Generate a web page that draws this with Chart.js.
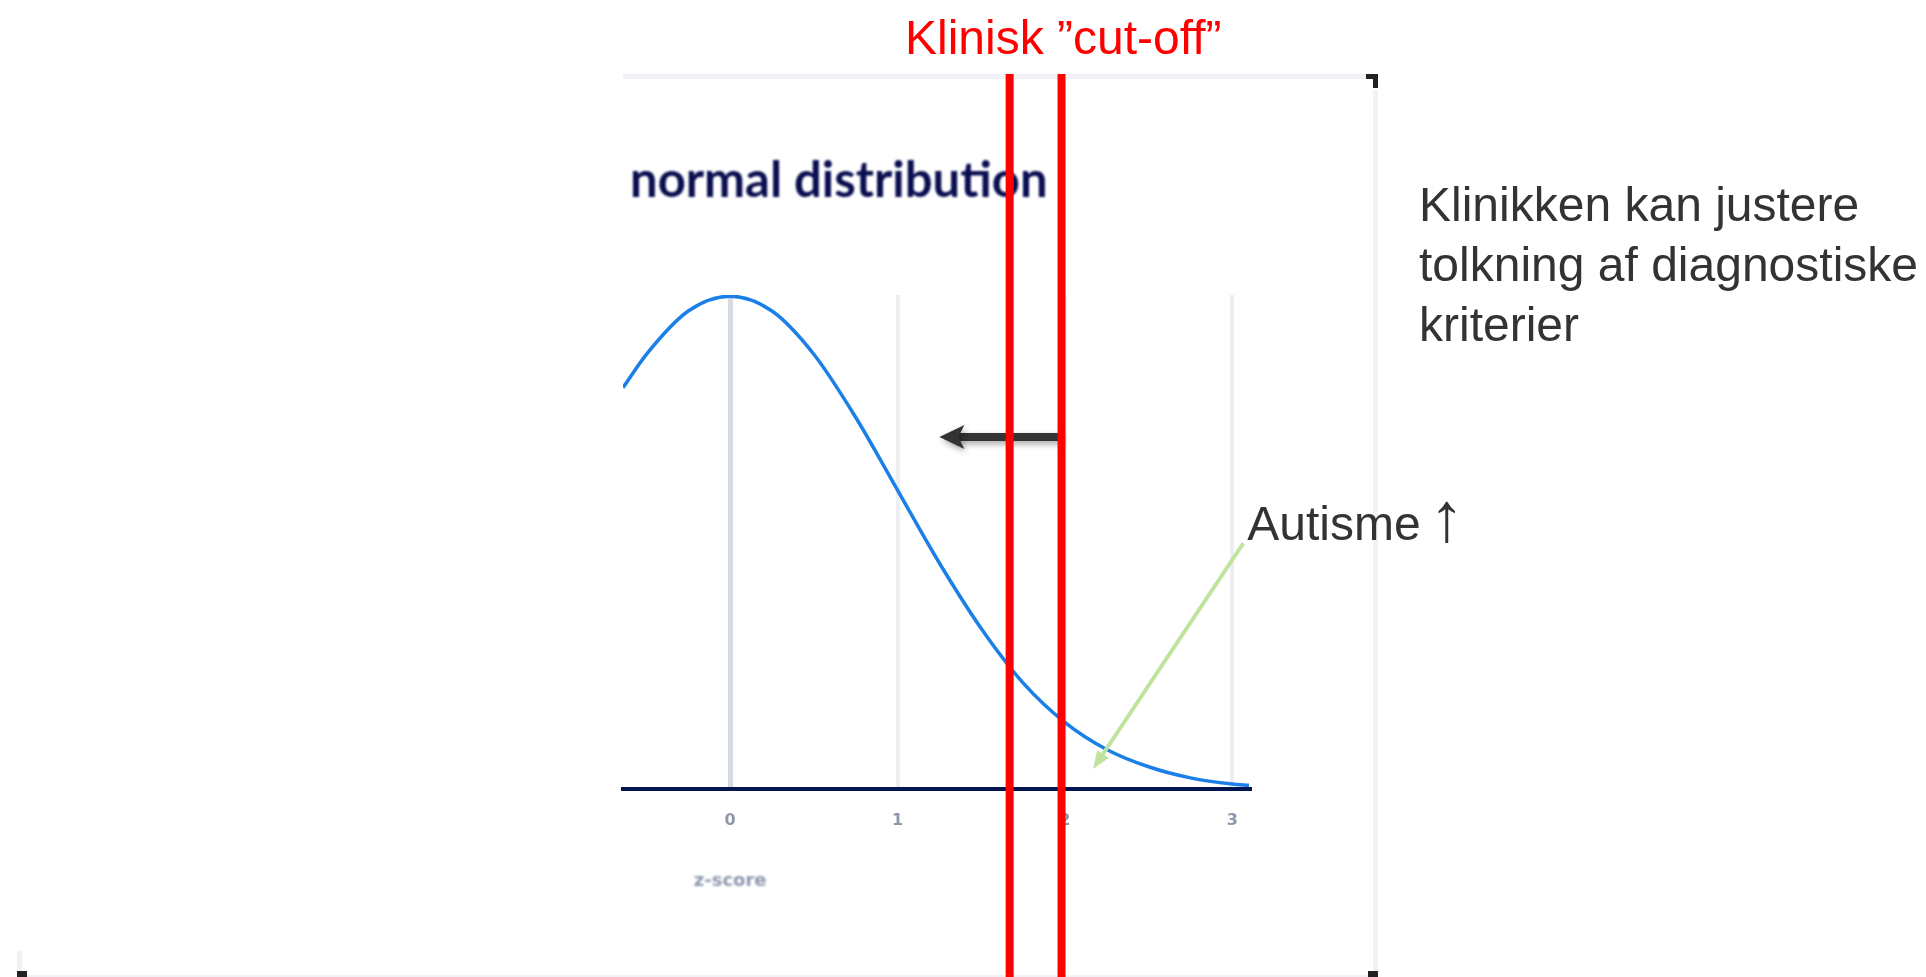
<!DOCTYPE html>
<html>
<head>
<meta charset="utf-8">
<script src="https://cdn.jsdelivr.net/npm/chart.js@4.4.1/dist/chart.umd.min.js"></script>
<style>
  html, body { margin: 0; padding: 0; background: #ffffff; }
  #chartNormal { display: block; }
</style>
</head>
<body>
<canvas id="chartNormal" width="1926" height="977"></canvas>
<script>
// values (standard normal curve, cropped at the left)
const zScores = [-0.64, -0.5, -0.25, 0, 0.25, 0.5, 0.75, 1, 1.25, 1.5, 1.75, 2, 2.25, 2.5, 2.75, 3, 3.1];
const density = [0.325, 0.352, 0.387, 0.399, 0.387, 0.352, 0.301, 0.242, 0.183, 0.130, 0.086, 0.054, 0.032, 0.018, 0.009, 0.004, 0.003];
const xTicks = [0, 1, 2, 3];
const cutOffs = [1.67, 1.98];

const chartTitle = 'normal distribution';
const axisTitle = 'z-score';
const cutOffLabel = 'Klinisk ”cut-off”';
const sideNote = ['Klinikken kan justere', 'tolkning af diagnostiske', 'kriterier'];
const autismLabel = ['Autisme', '↑'];

const points = zScores.map((z, i) => ({ x: z, y: density[i] }));

function arrowHead(ctx, x1, y1, x2, y2, len, half, notch) {
  const a = Math.atan2(y2 - y1, x2 - x1);
  const c = Math.cos(a), s = Math.sin(a);
  ctx.beginPath();
  ctx.moveTo(x2, y2);
  ctx.lineTo(x2 - len * c + half * s, y2 - len * s - half * c);
  ctx.lineTo(x2 - (len - notch) * c, y2 - (len - notch) * s);
  ctx.lineTo(x2 - len * c - half * s, y2 - len * s + half * c);
  ctx.closePath();
  ctx.fill();
}

// everything around the curve: frame, texts, cut-off lines and arrows
const overlay = {
  id: 'overlay',
  beforeDraw(chart) {
    const ctx = chart.ctx;
    ctx.save();
    ctx.fillStyle = '#f2f2f6';
    ctx.fillRect(623, 74, 750, 5);
    ctx.fillRect(1373, 90, 5, 881);
    ctx.fillRect(17, 975, 1361, 2);
    ctx.fillRect(17, 951, 5, 20);
    ctx.fillStyle = '#222';
    ctx.fillRect(1366, 74, 12, 5);
    ctx.fillRect(1373, 74, 5, 14);
    ctx.fillRect(17, 971, 10, 6);
    ctx.fillRect(1368, 971, 10, 6);
    ctx.restore();
  },
  afterDraw(chart) {
    const ctx = chart.ctx;
    const x = chart.scales.x, y = chart.scales.y;
    ctx.save();

    // blurry screenshot texts
    ctx.filter = 'blur(0.9px)';
    ctx.fillStyle = '#0a0e50';
    ctx.font = 'bold 49px Lato';
    ctx.textAlign = 'left';
    ctx.textBaseline = 'alphabetic';
    ctx.fillText(chartTitle, 630, 197);
    ctx.fillStyle = '#8e98ad';
    ctx.font = 'bold 18px "DejaVu Sans"';
    ctx.textAlign = 'center';
    ctx.fillText(axisTitle, x.getPixelForValue(0), 886);
    ctx.filter = 'none';

    // black arrow
    const bx1 = x.getPixelForValue(1.976), bx2 = x.getPixelForValue(1.25);
    const by = y.getPixelForValue(0.285);
    ctx.shadowColor = 'rgba(0,0,0,0.35)';
    ctx.shadowBlur = 6;
    ctx.shadowOffsetX = 2;
    ctx.shadowOffsetY = 3;
    ctx.strokeStyle = '#333333';
    ctx.fillStyle = '#333333';
    ctx.lineWidth = 8;
    ctx.beginPath();
    ctx.moveTo(bx1, by);
    ctx.lineTo(bx2 + 16, by);
    ctx.stroke();
    arrowHead(ctx, bx1, by, bx2, by, 25, 12, 6);
    ctx.shadowColor = 'transparent';

    // cut-off lines
    ctx.strokeStyle = '#ff0000';
    ctx.lineWidth = 8;
    cutOffs.forEach(v => {
      const px = x.getPixelForValue(v);
      ctx.beginPath();
      ctx.moveTo(px, 74);
      ctx.lineTo(px, 977);
      ctx.stroke();
    });

    // green arrow
    const gx1 = x.getPixelForValue(3.066), gy1 = y.getPixelForValue(0.199);
    const gx2 = x.getPixelForValue(2.168), gy2 = y.getPixelForValue(0.0162);
    ctx.strokeStyle = '#bfe39c';
    ctx.fillStyle = '#bfe39c';
    ctx.lineWidth = 4;
    const ga = Math.atan2(gy2 - gy1, gx2 - gx1);
    ctx.beginPath();
    ctx.moveTo(gx1, gy1);
    ctx.lineTo(gx2 - 12 * Math.cos(ga), gy2 - 12 * Math.sin(ga));
    ctx.stroke();
    arrowHead(ctx, gx1, gy1, gx2, gy2, 18, 7, 0);

    // texts
    ctx.font = '48px "Liberation Sans", Arial';
    ctx.textAlign = 'left';
    ctx.fillStyle = '#ff0000';
    ctx.fillText(cutOffLabel, 905, 54);
    ctx.fillStyle = '#333333';
    sideNote.forEach((line, i) => ctx.fillText(line, 1419, 221 + i * 60));
    const ax = x.getPixelForValue(3.09);
    ctx.fillText(autismLabel[0], ax, 540);
    ctx.font = '70px "Liberation Sans", Arial';
    ctx.fillText(autismLabel[1], ax + ctx.measureText(autismLabel[0]).width * 0 + 182, 541);

    ctx.restore();
  }
};

new Chart('chartNormal', {
  type: 'line',
  data: {
    datasets: [{
      data: points,
      borderColor: '#1a7fe6',
      borderWidth: 3.5,
      pointRadius: 0,
      cubicInterpolationMode: 'monotone',
      fill: false
    }]
  },
  options: {
    responsive: false,
    animation: false,
    layout: { padding: { left: 623, right: 677, top: 295, bottom: 0 } },
    plugins: { legend: { display: false }, tooltip: { enabled: false } },
    scales: {
      x: {
        type: 'linear',
        min: -0.64,
        max: 3.1,
        afterBuildTicks: scale => { scale.ticks = xTicks.map(v => ({ value: v })); },
        afterFit: scale => { scale.height = 188; },
        ticks: {
          padding: 22,
          color: '#8e98ad',
          font: { family: 'DejaVu Sans', size: 16, weight: 'bold' },
          callback: v => String(v)
        },
        grid: {
          drawTicks: false,
          color: c => (c.tick && c.tick.value === 0 ? '#d6dae2' : '#eceef3'),
          lineWidth: c => (c.tick && c.tick.value === 0 ? 5 : 4)
        },
        border: { display: true, color: '#02154f', width: 4 }
      },
      y: {
        display: false,
        min: 0,
        max: 0.4
      }
    }
  },
  plugins: [overlay]
});
</script>
</body>
</html>
